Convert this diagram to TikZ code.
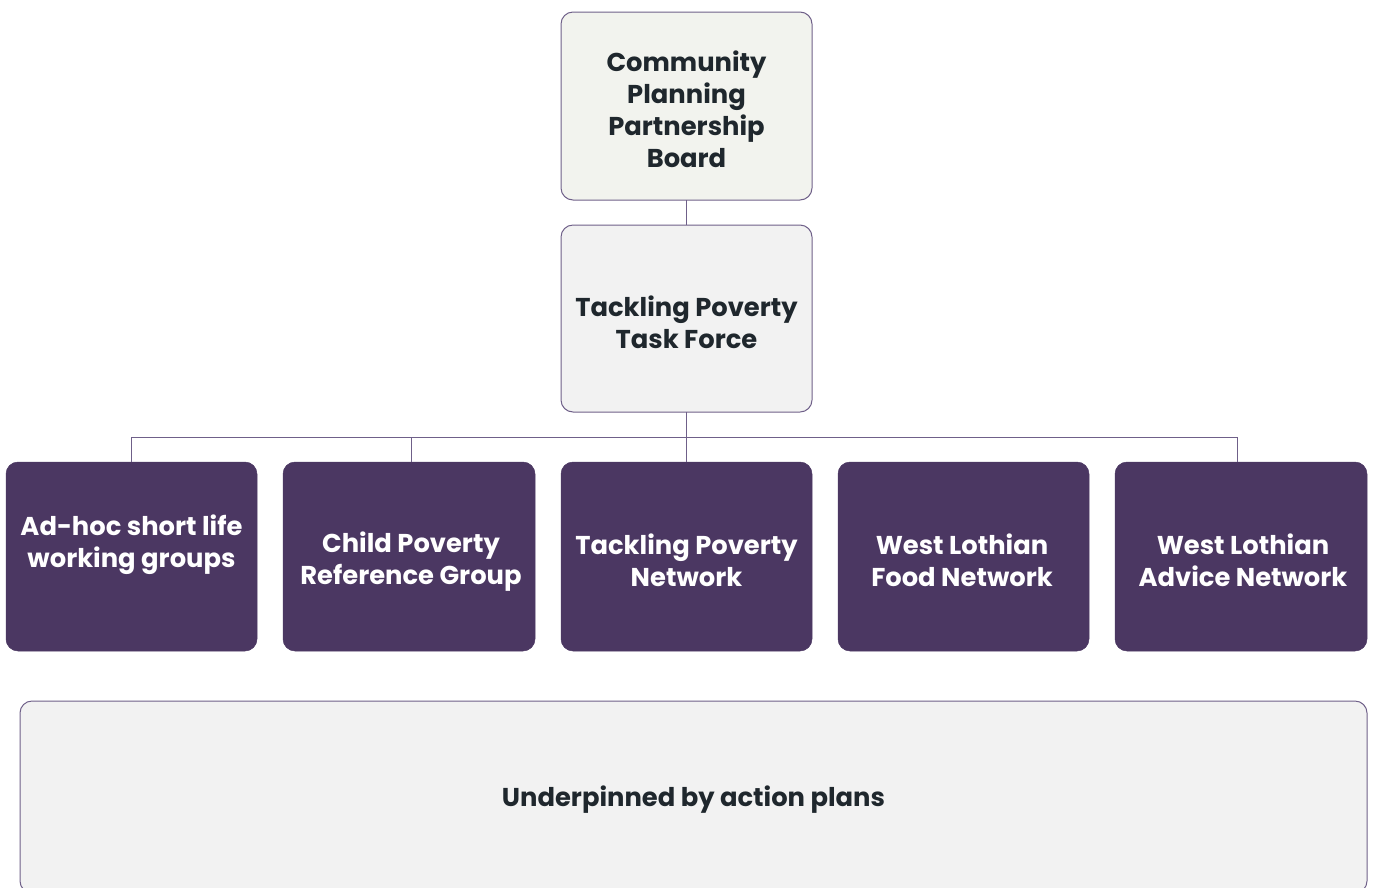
\documentclass[tikz,border=0pt]{standalone}
\usepackage{fontspec}
\setmainfont{Poppins}
\usetikzlibrary{positioning}
\definecolor{txt}{HTML}{1F272D}
\definecolor{lightbox}{HTML}{F2F2F2}
\definecolor{boardbox}{HTML}{F2F3EE}
\definecolor{purplebox}{HTML}{4B3762}
\definecolor{edge}{HTML}{6F6089}
\tikzset{
  box/.style={draw=edge, line width=1pt, rounded corners=12pt, inner sep=0pt, outer sep=0pt},
  lightnode/.style={box, fill=lightbox},
  darknode/.style={rounded corners=12pt, fill=purplebox, draw=purplebox, line width=0.5pt, inner sep=0pt, outer sep=0pt},
  lbl/.style={font=\bfseries\fontsize{25.8}{32}\selectfont, align=center, text=txt},
  wlbl/.style={font=\bfseries\fontsize{25.8}{32}\selectfont, align=center, text=white},
  conn/.style={draw=edge, line width=1pt},
}
\begin{document}
\begin{tikzpicture}[x=1pt,y=-1pt]
\useasboundingbox (0,0) rectangle (1375,887);
\begin{scope}
\clip (0,0) rectangle (1375,887);
% boxes
\node[box, fill=boardbox, minimum width=251pt, minimum height=188pt] (board) at (686.5,106) {};
\node[lightnode, minimum width=251pt, minimum height=187pt] (task) at (686.5,318.5) {};
\node[darknode, minimum width=251pt, minimum height=189pt] (b1) at (131.5,556.5) {};
\node[darknode, minimum width=252pt, minimum height=189pt] (b2) at (409,556.5) {};
\node[darknode, minimum width=251pt, minimum height=189pt] (b3) at (686.5,556.5) {};
\node[darknode, minimum width=251pt, minimum height=189pt] (b4) at (963.5,556.5) {};
\node[darknode, minimum width=252pt, minimum height=189pt] (b5) at (1241,556.5) {};
\node[lightnode, minimum width=1347pt, minimum height=192pt] (plans) at (693.5,797) {};
% texts
\node[lbl] (tboard) at (686.5,109) {Community\\Planning\\Partnership\\Board};
\node[lbl] (ttask) at (686.5,322) {Tackling Poverty\\Task Force};
\node[wlbl] (t1) at (131.5,545) {Ad-hoc short life\\working groups};
\node[wlbl] (t2) at (411,562) {Child Poverty\\Reference Group};
\node[wlbl] (t3) at (686.5,560) {Tackling Poverty\\Network};
\node[wlbl] (t4) at (962,560) {West Lothian\\Food Network};
\node[wlbl] (t5) at (1243,560) {West Lothian\\Advice Network};
\node[lbl] (tplans) at (693.5,800) {Underpinned by action plans};
% connectors
\coordinate (bus) at (686.5,437);
\draw[conn] (board.south) -- (task.north);
\draw[conn] (task.south) -- (bus);
\draw[conn] (131,462) |- (bus) -| (1237,462);
\draw[conn] (bus) -- (b3.north);
\draw[conn] (411,437) -- (411,462);
\end{scope}
\end{tikzpicture}
\end{document}
